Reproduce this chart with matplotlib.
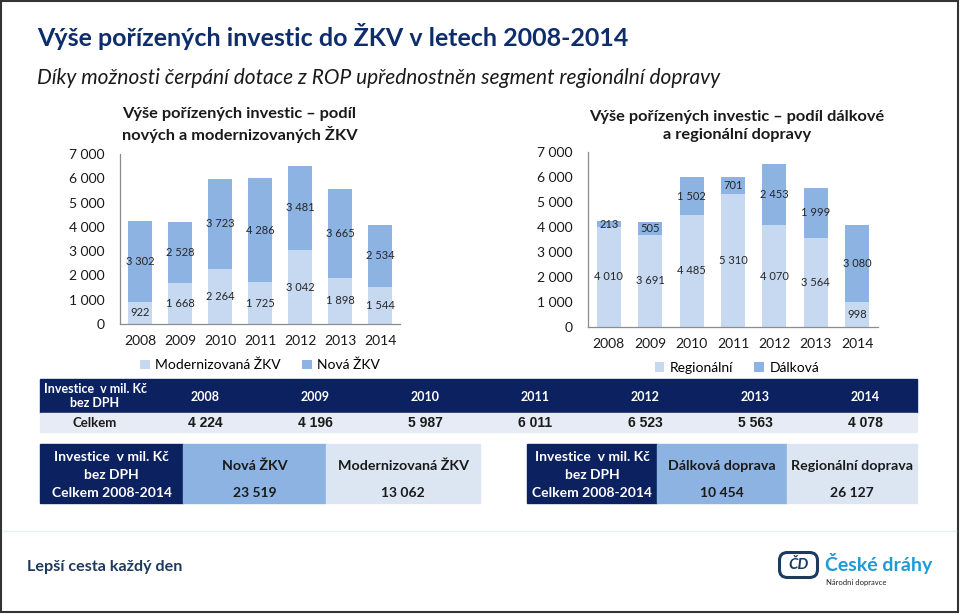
import matplotlib
matplotlib.use('Agg')
import matplotlib.pyplot as plt
from matplotlib.patches import Rectangle, FancyBboxPatch
from matplotlib.ticker import FuncFormatter

plt.rcParams['font.family'] = ['Lato', 'DejaVu Sans']

years = ['2008', '2009', '2010', '2011', '2012', '2013', '2014']
nova = [3302, 2528, 3723, 4286, 3481, 3665, 2534]
modern = [922, 1668, 2264, 1725, 3042, 1898, 1544]
regionalni = [4010, 3691, 4485, 5310, 4070, 3564, 998]
dalkova = [213, 505, 1502, 701, 2453, 1999, 3080]
celkem = [4224, 4196, 5987, 6011, 6523, 5563, 4078]
sum_nova, sum_modern = 23519, 13062
sum_dalkova, sum_regionalni = 10454, 26127

NAVY = '#0c2160'
DARK = '#8db3e2'
LIGHT = '#c6d9f1'
TXT = '#262626'


def fmt(v):
    return f'{v:,}'.replace(',', ' ')


fig = plt.figure(figsize=(9.6, 6.14), dpi=100)

# slide background in pixel coordinates
bg = fig.add_axes([0, 0, 1, 1])
bg.set_xlim(0, 960)
bg.set_ylim(614, 0)
bg.axis('off')
bg.add_patch(Rectangle((1, 1), 957, 611, fill=False, ec='#333333', lw=1.5))

bg.text(37, 36, 'Výše pořízených investic do ŽKV v letech 2008-2014', fontsize=18,
        fontweight='bold', color='#0e2d6b', va='center')
bg.text(37, 78, 'Díky možnosti čerpání dotace z ROP upřednostněn segment regionální dopravy',
        fontsize=15, style='italic', color='#1a1a1a', va='center')


def stacked(rect, bottom_vals, top_vals, labels, title, title_x, title_ha, title_y):
    ax = fig.add_axes(rect)
    x = list(range(len(years)))
    ax.bar(x, bottom_vals, width=0.58, color=LIGHT, label=labels[0])
    ax.bar(x, top_vals, width=0.58, bottom=bottom_vals, color=DARK, label=labels[1])
    for i in x:
        ax.text(i, bottom_vals[i] / 2, fmt(bottom_vals[i]), ha='center', va='center',
                fontsize=8, color=TXT)
        ax.text(i, bottom_vals[i] + top_vals[i] / 2, fmt(top_vals[i]), ha='center',
                va='center', fontsize=8, color=TXT)
    ax.set_xlim(-0.5, 6.5)
    ax.set_ylim(0, 7000)
    ax.set_yticks(range(0, 7001, 1000))
    ax.yaxis.set_major_formatter(FuncFormatter(lambda v, p: fmt(int(v))))
    ax.set_xticks(x)
    ax.set_xticklabels(years)
    ax.tick_params(length=0, labelsize=10, colors='#1a1a1a')
    ax.tick_params(axis='y', pad=11)
    ax.tick_params(axis='x', pad=8)
    for s in ['top', 'right']:
        ax.spines[s].set_visible(False)
    for s in ['left', 'bottom']:
        ax.spines[s].set_color('#8c8c8c')
        ax.spines[s].set_linewidth(0.9)
    ax.patch.set_alpha(0)
    fig.text(title_x, 1 - title_y / 614, title, ha=title_ha, va='center', fontsize=11.8,
             fontweight='bold', color='#1a1a1a', linespacing=1.4)
    ax.legend(loc='center', bbox_to_anchor=(title_x if title_ha == 'center' else 260 / 960,
                                            1 - (rect_legend_y(rect)) / 614),
              bbox_transform=fig.transFigure, ncol=2, frameon=False, fontsize=10,
              handlelength=0.7, handleheight=0.7, handletextpad=0.4, columnspacing=1.5)
    return ax


def rect_legend_y(rect):
    return (1 - rect[1]) * 614 + 41


ax1 = stacked([120 / 960, 1 - 324 / 614, 280 / 960, 170 / 614], modern, nova,
              ['Modernizovaná ŽKV', 'Nová ŽKV'],
              'Výše pořízených investic – podíl\nnových a modernizovaných ŽKV',
              122 / 960, 'left', 125)

ax2 = stacked([588 / 960, 1 - 327 / 614, 290 / 960, 175 / 614], regionalni, dalkova,
              ['Regionální', 'Dálková'],
              'Výše pořízených investic – podíl dálkové\na regionální dopravy',
              737 / 960, 'center', 126)

# yearly totals table
bg.add_patch(Rectangle((40, 379), 877, 34, color=NAVY))
bg.add_patch(Rectangle((40, 413), 877, 19, color='#e6ebf5'))
bg.text(95, 396, 'Investice  v mil. Kč\nbez DPH', ha='center', va='center', color='white',
        fontsize=9, fontweight='bold', linespacing=1.2)
bg.text(95, 423, 'Celkem', ha='center', va='center', color='#1a1a1a', fontsize=9.5,
        fontweight='bold')
for i, (y, v) in enumerate(zip(years, celkem)):
    cx = 205 + 110 * i
    bg.text(cx, 397, y, ha='center', va='center', color='white', fontsize=9,
            fontweight='bold')
    bg.text(cx, 423, fmt(v), ha='center', va='center', color='#1a1a1a', fontsize=10,
            fontweight='bold', family=['Liberation Sans', 'DejaVu Sans'])


def summary(x0, w0, w1, w2, h1, h2, v1, v2):
    bg.add_patch(Rectangle((x0, 444), w0, 59, color=NAVY))
    bg.add_patch(Rectangle((x0 + w0, 444), w1, 59, color=DARK))
    bg.add_patch(Rectangle((x0 + w0 + w1, 444), w2, 59, color='#dce6f2'))
    c0 = x0 + w0 / 2
    bg.text(c0, 457, 'Investice  v mil. Kč', ha='center', va='center', color='white',
            fontsize=10, fontweight='bold')
    bg.text(c0, 475, 'bez DPH', ha='center', va='center', color='white', fontsize=10,
            fontweight='bold')
    bg.text(c0, 493, 'Celkem 2008-2014', ha='center', va='center', color='white',
            fontsize=10, fontweight='bold')
    for cx, h, v in [(x0 + w0 + w1 / 2, h1, v1), (x0 + w0 + w1 + w2 / 2, h2, v2)]:
        bg.text(cx, 466, h, ha='center', va='center', color='#1a1a1a', fontsize=10.3,
                fontweight='bold')
        bg.text(cx, 493, fmt(v), ha='center', va='center', color='#1a1a1a', fontsize=10,
                fontweight='bold')


summary(40, 143, 143, 154, 'Nová ŽKV', 'Modernizovaná ŽKV', sum_nova, sum_modern)
summary(527, 130, 130, 130, 'Dálková doprava', 'Regionální doprava', sum_dalkova,
        sum_regionalni)

# footer
bg.plot([3, 956], [531, 531], color='#e3f1f8', lw=1)
bg.text(27, 567, 'Lepší cesta každý den', fontsize=11.6, fontweight='bold', color='#1d3a5f',
        va='center')
bg.add_patch(FancyBboxPatch((781, 554), 35, 22, boxstyle='round,pad=1.5,rounding_size=8',
                            fill=False, ec='#1d3a5f', lw=2.2))
bg.text(798.5, 565, 'ČD', ha='center', va='center', fontsize=11, fontweight='bold',
        style='italic', color='#1d3a5f')
bg.text(825, 563, 'České dráhy', fontsize=14, fontweight='bold', color='#1e9ad6',
        va='center')
bg.text(826, 583, 'Národní dopravce', fontsize=5.5, color='#222222', va='center')

fig.savefig('out.png', dpi=100)
